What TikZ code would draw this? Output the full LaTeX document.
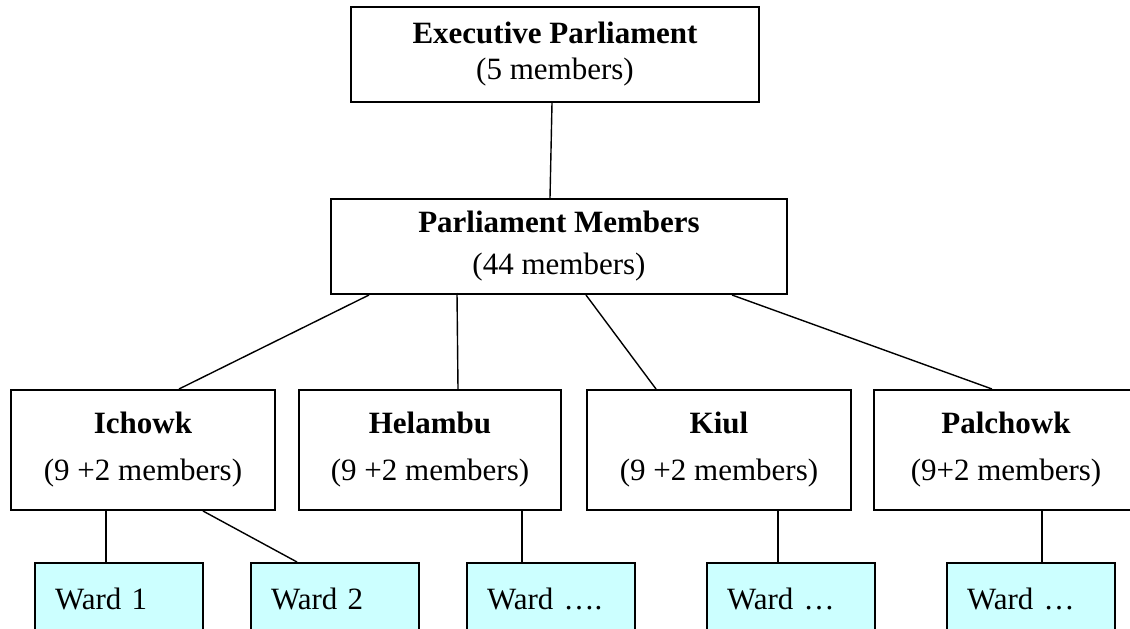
\documentclass[tikz,border=0pt]{standalone}
\usepackage{fontspec}
\setmainfont{Liberation Serif}
\definecolor{wardfill}{HTML}{CCFFFF}
\begin{document}
\begin{tikzpicture}[x=1pt,y=-1pt,
  topbox/.style={draw,line width=2pt,fill=white,align=center,inner sep=0pt,
    font=\fontsize{31}{36}\selectfont},
  pmbox/.style={draw,line width=2pt,fill=white,align=center,inner sep=0pt,
    font=\fontsize{31}{42}\selectfont},
  midbox/.style={draw,line width=2pt,fill=white,align=center,inner sep=0pt,
    minimum width=264pt,minimum height=120pt,font=\fontsize{31}{47}\selectfont},
  wardbox/.style={draw,line width=2pt,fill=wardfill,align=left,inner xsep=20pt,inner ysep=0pt,
    text width=128pt,minimum height=72pt,font=\fontsize{31}{36}\selectfont},
  link/.style={line width=1.4pt}]
\useasboundingbox (0,0) rectangle (1130,629);
\clip (0,0) rectangle (1130,629);
\node[topbox,minimum width=408pt,minimum height=95pt] (exec) at (555,54.5)
  {\textbf{Executive Parliament}\\(5 members)};
\node[pmbox,minimum width=456pt,minimum height=95pt] (pm) at (559,246.5)
  {\textbf{Parliament Members}\\(44 members)};
\node[midbox] (ich) at (143,450) {\textbf{Ichowk}\\(9 +2 members)};
\node[midbox,minimum width=262pt] (hel) at (430,450) {\textbf{Helambu}\\(9 +2 members)};
\node[midbox] (kiu) at (719,450) {\textbf{Kiul}\\(9 +2 members)};
\node[midbox] (pal) at (1006,450) {\textbf{Palchowk}\\(9+2 members)};
\node[wardbox] (w1) at (119,599) {Ward 1};
\node[wardbox] (w2) at (335,599) {Ward 2};
\node[wardbox] (w3) at (551,599) {Ward ….};
\node[wardbox] (w4) at (791,599) {Ward …};
\node[wardbox] (w5) at (1031,599) {Ward …};
\draw[link] ([xshift=202pt]exec.south west) -- ([xshift=220pt]pm.north west);
\draw[link] ([xshift=39pt]pm.south west) -- ([xshift=169pt]ich.north west);
\draw[link] ([xshift=127pt,yshift=2pt]pm.south west) -- ([xshift=160pt]hel.north west);
\draw[link] ([xshift=256pt]pm.south west) -- ([xshift=70pt]kiu.north west);
\draw[link] ([xshift=402pt]pm.south west) -- ([xshift=119pt]pal.north west);
\draw[link] ([xshift=96pt]ich.south west) -- ([xshift=72pt]w1.north west);
\draw[link] ([xshift=193pt]ich.south west) -- ([xshift=47pt]w2.north west);
\draw[link] ([xshift=224pt,yshift=2pt]hel.south west) -- ([xshift=56pt]w3.north west);
\draw[link] ([xshift=192pt]kiu.south west) -- ([xshift=72pt]w4.north west);
\draw[link] ([xshift=169pt]pal.south west) -- ([xshift=96pt]w5.north west);
\end{tikzpicture}
\end{document}
